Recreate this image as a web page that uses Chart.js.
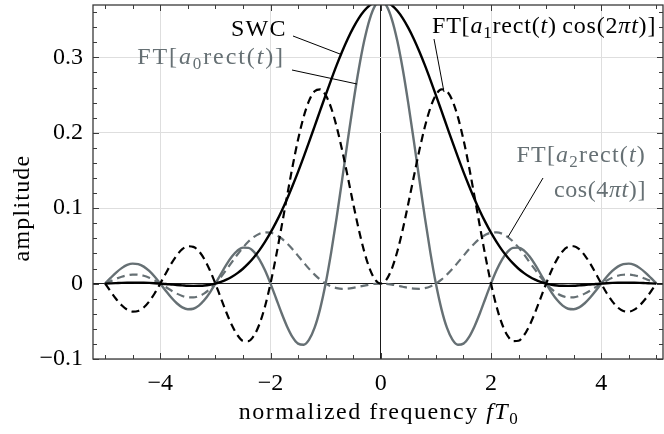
<!DOCTYPE html>
<html>
<head>
<meta charset="utf-8">
<script src="https://cdn.jsdelivr.net/npm/chart.js@4/dist/chart.umd.min.js"></script>
<style>
  body { margin: 0; background: #fff; }
  canvas { display: block; }
</style>
</head>
<body>
<canvas id="chart" width="664" height="434"></canvas>
<script>
// normalized frequency fT0, step 0.1
const freq = [
  -5.0, -4.9, -4.8, -4.7, -4.6, -4.5, -4.4, -4.3, -4.2, -4.1,
  -4.0, -3.9, -3.8, -3.7, -3.6, -3.5, -3.4, -3.3, -3.2, -3.1,
  -3.0, -2.9, -2.8, -2.7, -2.6, -2.5, -2.4, -2.3, -2.2, -2.1,
  -2.0, -1.9, -1.8, -1.7, -1.6, -1.5, -1.4, -1.3, -1.2, -1.1,
  -1.0, -0.9, -0.8, -0.7, -0.6, -0.5, -0.4, -0.3, -0.2, -0.1,
  0.0,
  0.1, 0.2, 0.3, 0.4, 0.5, 0.6, 0.7, 0.8, 0.9, 1.0,
  1.1, 1.2, 1.3, 1.4, 1.5, 1.6, 1.7, 1.8, 1.9, 2.0,
  2.1, 2.2, 2.3, 2.4, 2.5, 2.6, 2.7, 2.8, 2.9, 3.0,
  3.1, 3.2, 3.3, 3.4, 3.5, 3.6, 3.7, 3.8, 3.9, 4.0,
  4.1, 4.2, 4.3, 4.4, 4.5, 4.6, 4.7, 4.8, 4.9, 5.0
];

// SWC (black solid)
const swc = [
  0, 0.0003, 0.0006, 0.0009, 0.0011, 0.0012, 0.0013, 0.0012, 0.0009, 0.0005,
  0, -0.0005, -0.0012, -0.0019, -0.0024, -0.0029, -0.0031, -0.0029, -0.0025, -0.0015,
  0, 0.0022, 0.0052, 0.0090, 0.0139, 0.0197, 0.0267, 0.0350, 0.0444, 0.0553,
  0.0675, 0.0811, 0.0960, 0.1122, 0.1298, 0.1482, 0.1677, 0.1878, 0.2085, 0.2293,
  0.25, 0.2702, 0.2896, 0.3078, 0.3244, 0.3391, 0.3517, 0.3617, 0.3690, 0.3735,
  0.375,
  0.3735, 0.3690, 0.3617, 0.3517, 0.3391, 0.3244, 0.3078, 0.2896, 0.2702, 0.25,
  0.2293, 0.2085, 0.1878, 0.1677, 0.1482, 0.1298, 0.1122, 0.0960, 0.0811, 0.0675,
  0.0553, 0.0444, 0.0350, 0.0267, 0.0197, 0.0139, 0.0090, 0.0052, 0.0022, 0,
  -0.0015, -0.0025, -0.0029, -0.0031, -0.0029, -0.0024, -0.0019, -0.0012, -0.0005, 0,
  0.0005, 0.0009, 0.0012, 0.0013, 0.0012, 0.0011, 0.0009, 0.0006, 0.0003, 0
];

// FT[a0 rect(t)] (gray solid)
const ftA0 = [
  0, 0.0075, 0.0146, 0.0205, 0.0247, 0.0265, 0.0258, 0.0225, 0.0167, 0.0090,
  0, -0.0095, -0.0185, -0.0261, -0.0315, -0.0341, -0.0334, -0.0293, -0.0219, -0.0119,
  0, 0.0127, 0.0251, 0.0358, 0.0437, 0.0477, 0.0473, 0.0420, 0.0319, 0.0176,
  0, -0.0194, -0.0390, -0.0568, -0.0710, -0.0796, -0.0811, -0.0743, -0.0585, -0.0335,
  0, 0.0410, 0.0877, 0.1380, 0.1892, 0.2387, 0.2838, 0.3219, 0.3508, 0.3689,
  0.375,
  0.3689, 0.3508, 0.3219, 0.2838, 0.2387, 0.1892, 0.1380, 0.0877, 0.0410, 0,
  -0.0335, -0.0585, -0.0743, -0.0811, -0.0796, -0.0710, -0.0568, -0.0390, -0.0194, 0,
  0.0176, 0.0319, 0.0420, 0.0473, 0.0477, 0.0437, 0.0358, 0.0251, 0.0127, 0,
  -0.0119, -0.0219, -0.0293, -0.0334, -0.0341, -0.0315, -0.0261, -0.0185, -0.0095, 0,
  0.0090, 0.0167, 0.0225, 0.0258, 0.0265, 0.0247, 0.0205, 0.0146, 0.0075, 0
];

// FT[a1 rect(t) cos(2 pi t)] (black dashed)
const ftA1 = [
  0, -0.0105, -0.0204, -0.0287, -0.0345, -0.0372, -0.0363, -0.0317, -0.0236, -0.0128,
  0, 0.0135, 0.0265, 0.0375, 0.0456, 0.0495, 0.0487, 0.0430, 0.0324, 0.0177,
  0, -0.0193, -0.0383, -0.0553, -0.0683, -0.0758, -0.0763, -0.0690, -0.0536, -0.0303,
  0, 0.0358, 0.0752, 0.1158, 0.1553, 0.1910, 0.2207, 0.2426, 0.2551, 0.2576,
  0.25, 0.2330, 0.2079, 0.1767, 0.1419, 0.1061, 0.0721, 0.0425, 0.0195, 0.0050,
  0,
  0.0050, 0.0195, 0.0425, 0.0721, 0.1061, 0.1419, 0.1767, 0.2079, 0.2330, 0.25,
  0.2576, 0.2551, 0.2426, 0.2207, 0.1910, 0.1553, 0.1158, 0.0752, 0.0358, 0,
  -0.0303, -0.0536, -0.0690, -0.0763, -0.0758, -0.0683, -0.0553, -0.0383, -0.0193, 0,
  0.0177, 0.0324, 0.0430, 0.0487, 0.0495, 0.0456, 0.0375, 0.0265, 0.0135, 0,
  -0.0128, -0.0236, -0.0317, -0.0363, -0.0372, -0.0345, -0.0287, -0.0204, -0.0105, 0
];

// FT[a2 rect(t) cos(4 pi t)] (gray dashed)
const ftA2 = [
  0, 0.0032, 0.0064, 0.0091, 0.0109, 0.0119, 0.0117, 0.0104, 0.0078, 0.0042,
  0, -0.0046, -0.0092, -0.0133, -0.0164, -0.0183, -0.0184, -0.0166, -0.0130, -0.0073,
  0, 0.0087, 0.0185, 0.0285, 0.0386, 0.0477, 0.0557, 0.0620, 0.0662, 0.0680,
  0.0675, 0.0647, 0.0598, 0.0532, 0.0455, 0.0368, 0.0281, 0.0195, 0.0119, 0.0053,
  0, -0.0038, -0.0060, -0.0069, -0.0067, -0.0057, -0.0042, -0.0027, -0.0013, -0.0003,
  0,
  -0.0003, -0.0013, -0.0027, -0.0042, -0.0057, -0.0067, -0.0069, -0.0060, -0.0038, 0,
  0.0053, 0.0119, 0.0195, 0.0281, 0.0368, 0.0455, 0.0532, 0.0598, 0.0647, 0.0675,
  0.0680, 0.0662, 0.0620, 0.0557, 0.0477, 0.0386, 0.0285, 0.0185, 0.0087, 0,
  -0.0073, -0.0130, -0.0166, -0.0184, -0.0183, -0.0164, -0.0133, -0.0092, -0.0046, 0,
  0.0042, 0.0078, 0.0104, 0.0117, 0.0119, 0.0109, 0.0091, 0.0064, 0.0032, 0
];

const xTicks = [-4, -2, 0, 2, 4];
const yTicks = [-0.1, 0, 0.1, 0.2, 0.3];

const GRAY = '#667074';
const FRAME = '#3a3a3a';
const FONT = '"Liberation Serif", "Times New Roman", serif';

function pts(ys) {
  return freq.map((x, i) => ({ x: x, y: ys[i] }));
}

function fmt(v) {
  return String(Math.round(v * 10) / 10).replace('-', '\u2212');
}

// draws a string made of roman / italic / subscript pieces
function drawRich(ctx, parts, x, y, align, color, spacing) {
  const fonts = {
    r: '24px ' + FONT,
    i: 'italic 24px ' + FONT,
    s: '17px ' + FONT
  };
  ctx.save();
  ctx.letterSpacing = (spacing === undefined ? 1.2 : spacing) + 'px';
  ctx.textBaseline = 'alphabetic';
  ctx.textAlign = 'left';
  let total = 0;
  parts.forEach(p => {
    ctx.font = fonts[p[1]];
    total += ctx.measureText(p[0]).width;
  });
  let cx = align === 'right' ? x - total : (align === 'center' ? x - total / 2 : x);
  ctx.fillStyle = color;
  parts.forEach(p => {
    ctx.font = fonts[p[1]];
    ctx.fillText(p[0], cx, p[1] === 's' ? y + 5 : y);
    cx += ctx.measureText(p[0]).width;
  });
  ctx.restore();
}

function leader(ctx, x1, y1, x2, y2) {
  ctx.save();
  ctx.strokeStyle = '#000';
  ctx.lineWidth = 1;
  ctx.beginPath();
  ctx.moveTo(x1, y1);
  ctx.lineTo(x2, y2);
  ctx.stroke();
  ctx.restore();
}

const decor = {
  id: 'decor',
  afterDraw(chart) {
    const ctx = chart.ctx;
    const a = chart.chartArea;
    const xs = chart.scales.x;
    const ys = chart.scales.y;

    // inward ticks on all four sides
    ctx.save();
    ctx.strokeStyle = FRAME;
    ctx.lineWidth = 1;
    ctx.beginPath();
    for (let k = -10; k <= 10; k++) {
      const v = k / 2;
      const px = Math.round(xs.getPixelForValue(v)) + 0.5;
      const len = (k % 4 === 0) ? 6 : 4;
      ctx.moveTo(px, a.bottom); ctx.lineTo(px, a.bottom - len);
      ctx.moveTo(px, a.top); ctx.lineTo(px, a.top + len);
    }
    for (let k = -5; k <= 18; k++) {
      const v = k / 50;
      const py = Math.round(ys.getPixelForValue(v)) + 0.5;
      const len = (k % 5 === 0) ? 6 : 4;
      ctx.moveTo(a.left, py); ctx.lineTo(a.left + len, py);
      ctx.moveTo(a.right, py); ctx.lineTo(a.right - len, py);
    }
    ctx.stroke();
    ctx.lineWidth = 1.3;
    ctx.strokeRect(a.left, a.top, a.right - a.left, a.bottom - a.top);
    ctx.restore();

    // annotations
    drawRich(ctx, [['SWC', 'r']], 231, 36, 'left', '#000');
    leader(ctx, 293, 36, 340, 54);

    drawRich(ctx, [['FT[', 'r'], ['a', 'i'], ['0', 's'], ['rect(', 'r'], ['t', 'i'], [')]', 'r']],
      285, 64, 'right', GRAY, 1.9);
    leader(ctx, 292, 70, 357, 84);

    drawRich(ctx, [['FT[', 'r'], ['a', 'i'], ['1', 's'], ['rect(', 'r'], ['t', 'i'], [')\u2009cos(2', 'r'],
      ['\u03c0', 'i'], ['t', 'i'], [')]', 'r']], 432, 33, 'left', '#000', 0.8);
    leader(ctx, 434, 39, 444, 92);

    drawRich(ctx, [['FT[', 'r'], ['a', 'i'], ['2', 's'], ['rect(', 'r'], ['t', 'i'], [')', 'r']],
      646, 162, 'right', GRAY);
    drawRich(ctx, [['cos(4', 'r'], ['\u03c0', 'i'], ['t', 'i'], [')]', 'r']],
      646, 197, 'right', GRAY, 0.6);
    leader(ctx, 543, 178, 508, 237);

    // axis titles
    drawRich(ctx, [['normalized frequency ', 'r'], ['fT', 'i'], ['0', 's']], 379, 419, 'center', '#000', 1.5);
    ctx.save();
    ctx.translate(29, 208);
    ctx.rotate(-Math.PI / 2);
    drawRich(ctx, [['amplitude', 'r']], 0, 0, 'center', '#000');
    ctx.restore();
  }
};

const gridColor = c => (c.tick && c.tick.value === 0 ? '#1a1a1a' : '#dedede');

new Chart(document.getElementById('chart'), {
  type: 'line',
  data: {
    datasets: [
      { label: 'SWC', data: pts(swc), borderColor: '#000', borderWidth: 2.4, order: 1 },
      { label: 'FT[a1 rect(t) cos(2πt)]', data: pts(ftA1), borderColor: '#000', borderWidth: 2.2,
        borderDash: [8, 5], order: 2 },
      { label: 'FT[a0 rect(t)]', data: pts(ftA0), borderColor: GRAY, borderWidth: 2.4, order: 3 },
      { label: 'FT[a2 rect(t) cos(4πt)]', data: pts(ftA2), borderColor: GRAY, borderWidth: 2.2,
        borderDash: [8, 5], order: 4 }
    ]
  },
  options: {
    responsive: false,
    animation: false,
    devicePixelRatio: 1,
    layout: { padding: { top: 5, right: 1, left: 0, bottom: 0 } },
    elements: {
      point: { radius: 0 },
      line: { cubicInterpolationMode: 'monotone', fill: false }
    },
    datasets: { line: { clip: 0 } },
    plugins: {
      legend: { display: false },
      tooltip: { enabled: false }
    },
    scales: {
      x: {
        type: 'linear',
        min: -5.22,
        max: 5.12,
        afterFit(scale) {
          scale.height = 75;
          scale.paddingLeft = 0;
          scale.paddingRight = 0;
        },
        afterBuildTicks(scale) { scale.ticks = xTicks.map(v => ({ value: v })); },
        grid: { color: gridColor, lineWidth: 1, drawTicks: false },
        border: { display: false },
        ticks: {
          padding: 10,
          color: '#000',
          font: { family: FONT, size: 24 },
          callback: v => fmt(v)
        }
      },
      y: {
        type: 'linear',
        min: -0.1,
        max: 0.3694,
        afterFit(scale) {
          scale.width = 93;
          scale.paddingTop = 0;
          scale.paddingBottom = 0;
        },
        afterBuildTicks(scale) { scale.ticks = yTicks.map(v => ({ value: v })); },
        grid: { color: gridColor, lineWidth: 1, drawTicks: false },
        border: { display: false },
        ticks: {
          padding: 10,
          color: '#000',
          font: { family: FONT, size: 24 },
          callback: v => fmt(v)
        }
      }
    }
  },
  plugins: [decor]
});
</script>
</body>
</html>
